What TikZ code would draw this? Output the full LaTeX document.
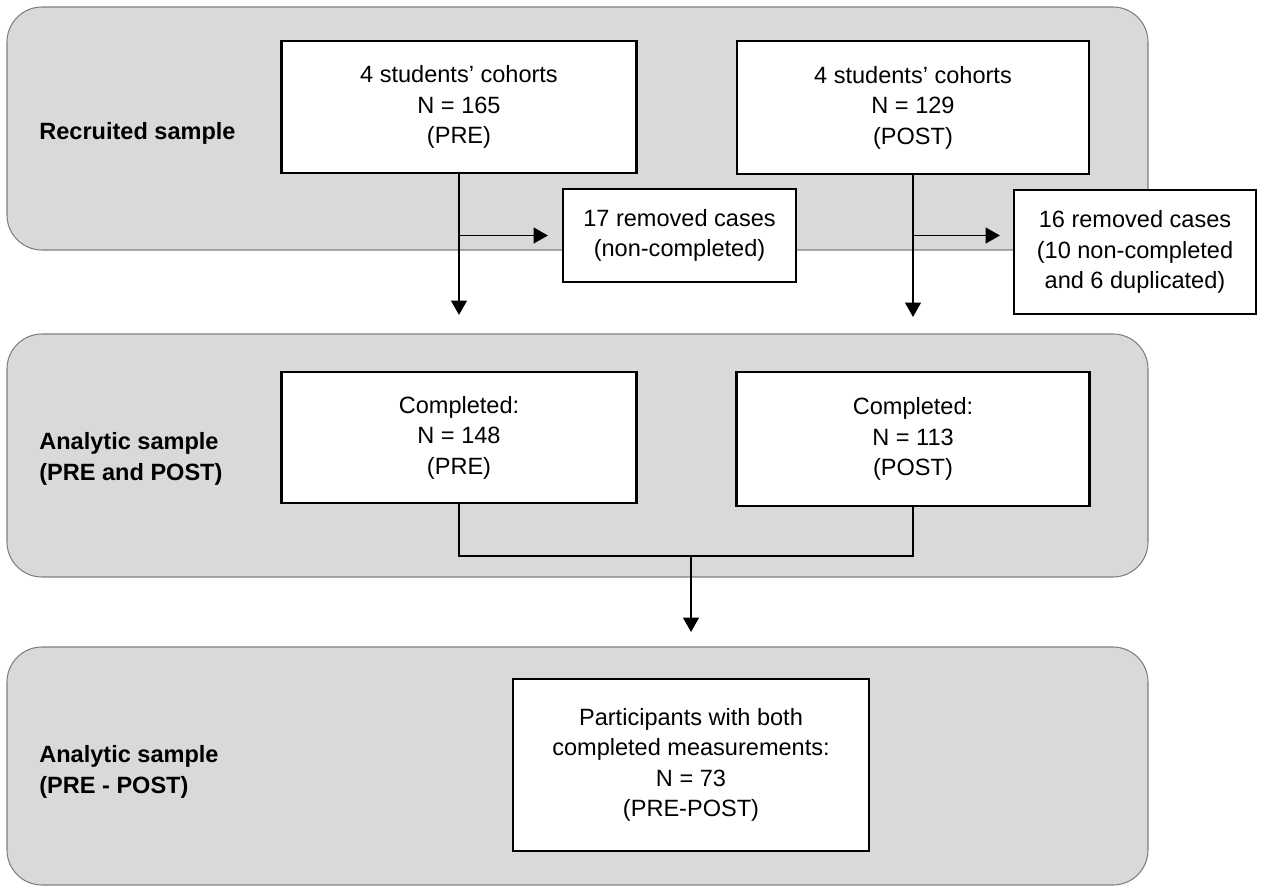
\documentclass[tikz,border=0pt]{standalone}
\usepackage{fontspec}
\setmainfont{Liberation Sans}
\usepackage{tikz}
\usetikzlibrary{arrows.meta}
\newlength{\pxu}
\setlength{\pxu}{0.02cm}
\definecolor{panelgray}{HTML}{D9D9D9}
\definecolor{panelline}{HTML}{7F7F7F}
\tikzset{
panel/.style={draw=panelline, line width=0.6pt, fill=panelgray, rounded corners=35\pxu},
box/.style={draw=black, fill=white, line width=1.2pt, align=center, inner sep=0pt,
    font=\fontsize{13.4}{17.4}\selectfont},
lbl/.style={anchor=west, align=left, inner sep=0pt, font=\fontsize{13.4}{18}\selectfont\bfseries},
arr/.style={line width=1.1pt, -{Triangle[length=8.2pt,width=9pt]}},
link/.style={line width=1.1pt}}

\begin{document}
\begin{tikzpicture}[x=0.02cm, y=-0.02cm]
            \useasboundingbox (0,0) rectangle (1262,886);

                \draw[panel] (7,7) rectangle (1148,250);
                \draw[panel] (7,334) rectangle (1148,577);
                \draw[panel] (7,647) rectangle (1148,885);

                \node[lbl] (L1) at (39,133) {Recruited sample};
                \node[lbl] (L2) at (39,459) {Analytic sample\\(PRE and POST)};
                \node[lbl] (L3) at (39,772) {Analytic sample\\(PRE - POST)};

                \node[box, minimum width=355\pxu, minimum height=132\pxu] (Pre) at (459,107) {4 students’ cohorts\\N = 165\\(PRE)};
                \node[box, minimum width=352\pxu, minimum height=133\pxu] (Post) at (913,107.5) {4 students’ cohorts\\N = 129\\(POST)};
                \node[box, minimum width=233\pxu, minimum height=93\pxu] (RemPre) at (679.5,235.5) {17 removed cases\\(non-completed)};
                \node[box, minimum width=242\pxu, minimum height=124\pxu] (RemPost) at (1135,252) {16 removed cases\\(10 non-completed\\and 6 duplicated)};
                \node[box, minimum width=355\pxu, minimum height=131\pxu] (CPre) at (459,437.5) {Completed:\\N = 148\\(PRE)};
                \node[box, minimum width=353\pxu, minimum height=134\pxu] (CPost) at (913,439) {Completed:\\N = 113\\(POST)};
                \node[box, minimum width=356\pxu, minimum height=172\pxu] (Both) at (691,765) {Participants with both\\completed measurements:\\N = 73\\(PRE-POST)};

                \draw[arr, shorten >=56\pxu] (Pre) -- (CPre);
                \draw[arr, shorten >=54\pxu] (Post) -- (CPost);
                \draw[arr, shorten >=14\pxu] (Pre.south |- RemPre.west) -- (RemPre.west);
                \draw[arr, shorten >=13\pxu] (Post.south |- RemPre.west) -- (RemPost.west |- RemPre.west);
                \draw[link] (CPre.south) -- ++(0,52) coordinate (J) -| (CPost.south);
                \draw[arr, shorten >=46\pxu] (J -| Both.north) -- (Both.north);

            \end{tikzpicture}
\end{document}
